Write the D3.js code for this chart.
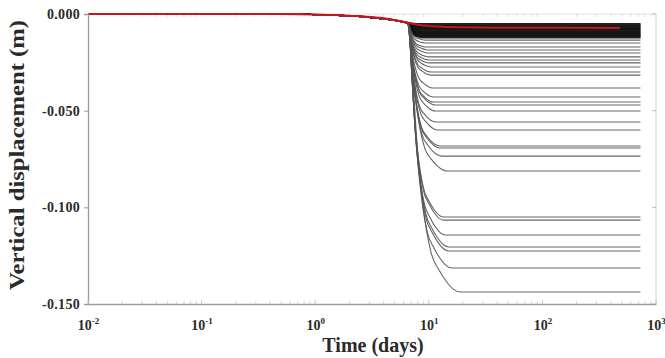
<!DOCTYPE html>
<html>
<head>
<meta charset="utf-8">
<script src="https://cdn.jsdelivr.net/npm/d3@7/dist/d3.min.js"></script>
<style>
  html, body { margin: 0; padding: 0; background: #fff; }
  svg { display: block; }
  text { font-family: "Liberation Serif", "Times New Roman", serif; font-weight: bold; fill: #2a2a2a; }
</style>
</head>
<body>
<svg id="chart" width="665" height="358"></svg>
<script>
// ---------- data ----------
const xTickExponents = [-2, -1, 0, 1, 2, 3];
const yTickValues = [0, -0.05, -0.1, -0.15];
const yTickLabels = ["0.000", "-0.050", "-0.100", "-0.150"];

// common early (pre-drop) settlement, days / m
const preTimes  = [0.01, 0.3, 0.7, 1, 1.5, 2, 3, 4, 5, 5.8, 6.5];
const preValues = [0, 0, -0.0001, -0.0003, -0.0006, -0.001, -0.0017, -0.0025, -0.0033, -0.0040, -0.0047];

// shape of the main drop: fraction of log-time between drop start and settle time, fraction of settlement
const dropStartDay = 6.5;
const dropTimeFrac = [0.06, 0.12, 0.19, 0.28, 0.44, 0.6, 0.73, 0.87, 1];
const dropValueFrac = [0.08, 0.27, 0.48, 0.66, 0.85, 0.92, 0.96, 0.99, 1];
const endDay = 730;

// final vertical displacement of each black curve (m)
const finalValues = [
  -0.0050, -0.0053, -0.0056, -0.0060, -0.0063, -0.0066, -0.0069, -0.0072, -0.0075, -0.0078,
  -0.0081, -0.0084, -0.0087, -0.0090, -0.0093, -0.0096, -0.0099, -0.0102, -0.0105, -0.0108,
  -0.0111, -0.0114, -0.0117, -0.0120, -0.0124,
  -0.0135, -0.0150, -0.0171, -0.0186, -0.0202, -0.0222, -0.0238, -0.0253, -0.0274, -0.0300, -0.0316,
  -0.0383, -0.0429, -0.0455, -0.0471, -0.0502,
  -0.0559, -0.0600,
  -0.0683, -0.0693, -0.0735, -0.0812,
  -0.1050, -0.1066, -0.1143, -0.1205, -0.1226, -0.1314,
  -0.1438
];
// day at which each black curve levels off
const settleDays = [
  9, 9, 9, 9, 9, 9, 9, 9, 9, 9,
  9, 9, 9, 9, 9, 9, 9, 9, 9, 9,
  9, 9, 9, 9, 9,
  9.5, 9.5, 9.5, 10, 10, 10, 10, 10, 10.5, 10.5, 10.5,
  11, 11, 11, 11.5, 11.5,
  11.5, 12,
  12.5, 12.5, 13, 14.5,
  13.5, 13.5, 14, 15, 15, 16,
  19
];

// red curve
const redTimes  = [0.01, 0.5, 1, 1.5, 2, 3, 3.7, 5.5, 7, 8.4, 12, 20, 50, 480];
const redValues = [0, 0, -0.0002, -0.0005, -0.0009, -0.0015, -0.002, -0.0036, -0.0049, -0.0057, -0.0065, -0.0069, -0.0071, -0.0072];

// ---------- drawing ----------
const svg = d3.select("#chart");
const mLeft = 88, mRight = 656, mTop = 14, mBottom = 304;

const x = d3.scaleLog().domain([0.01, 1000]).range([mLeft, mRight]);
const y = d3.scaleLinear().domain([-0.15, 0]).range([mBottom, mTop]);

// frame
svg.append("line").attr("x1", mLeft).attr("x2", mRight).attr("y1", mTop).attr("y2", mTop)
  .attr("stroke", "#e2e2e2").attr("stroke-width", 1);
svg.append("line").attr("x1", mRight).attr("x2", mRight).attr("y1", mTop).attr("y2", mBottom)
  .attr("stroke", "#d0d0d0").attr("stroke-width", 1);

// minor ticks (top and bottom, inward)
const minorTicks = [];
xTickExponents.slice(0, -1).forEach(e => {
  for (let k = 2; k <= 9; k++) minorTicks.push(k * Math.pow(10, e));
});
svg.append("g").selectAll("line").data(minorTicks).join("line")
  .attr("x1", d => x(d)).attr("x2", d => x(d)).attr("y1", mBottom).attr("y2", mBottom - 3)
  .attr("stroke", "#d8d8d8");
svg.append("g").selectAll("line").data(minorTicks).join("line")
  .attr("x1", d => x(d)).attr("x2", d => x(d)).attr("y1", mTop).attr("y2", mTop + 3)
  .attr("stroke", "#e0e0e0");
// right-side major y ticks
svg.append("g").selectAll("line").data(yTickValues).join("line")
  .attr("x1", mRight).attr("x2", mRight - 4).attr("y1", d => y(d)).attr("y2", d => y(d))
  .attr("stroke", "#bbb");

// curves
const line = d3.line().x(d => x(d[0])).y(d => y(d[1])).curve(d3.curveMonotoneX);

function blackCurve(finalV, tEnd) {
  const preEnd = preValues[preValues.length - 1];
  const scale = Math.min(1, (0.85 * finalV) / preEnd);
  const pts = preTimes.map((t, i) => [t, preValues[i] * scale]);
  const start = preEnd * scale;
  const l0 = Math.log10(dropStartDay), l1 = Math.log10(tEnd);
  dropTimeFrac.forEach((s, i) => {
    pts.push([Math.pow(10, l0 + s * (l1 - l0)), start + dropValueFrac[i] * (finalV - start)]);
  });
  pts.push([endDay, finalV]);
  return pts;
}

const gLines = svg.append("g");
gLines.selectAll("path").data(finalValues.map((v, i) => blackCurve(v, settleDays[i])))
  .join("path")
  .attr("d", line)
  .attr("fill", "none")
  .attr("stroke", (d, i) => finalValues[i] > -0.013 ? "#111" : "#555")
  .attr("stroke-width", (d, i) => finalValues[i] > -0.013 ? 1.2 : 1.1)
  .attr("stroke-opacity", 0.9);

svg.append("path")
  .datum(redTimes.map((t, i) => [t, redValues[i]]))
  .attr("d", line)
  .attr("fill", "none")
  .attr("stroke", "#c3161f")
  .attr("stroke-width", 2);

// y axis
const yAxis = d3.axisLeft(y).tickValues(yTickValues).tickSize(4).tickPadding(4)
  .tickFormat((d, i) => yTickLabels[i]);
const gy = svg.append("g").attr("transform", `translate(${mLeft},0)`).call(yAxis)
  .attr("font-family", null).attr("font-size", null);
gy.select(".domain").attr("stroke", "#9a9a9a").attr("stroke-width", 1.3);
gy.selectAll(".tick line").attr("stroke", "#9a9a9a");
gy.selectAll(".tick text")
  .style("font-family", '"Liberation Serif", serif').style("font-weight", "bold")
  .style("font-size", "14px").style("letter-spacing", "0.3px").attr("fill", "#2a2a2a");

// x axis
const xTickValues = xTickExponents.map(e => Math.pow(10, e));
const xAxis = d3.axisBottom(x).tickValues(xTickValues).tickSize(0).tickFormat("");
const gx = svg.append("g").attr("transform", `translate(0,${mBottom})`).call(xAxis)
  .attr("font-family", null).attr("font-size", null);
gx.select(".domain").attr("stroke", "#9a9a9a").attr("stroke-width", 1.3);
gx.selectAll(".tick").each(function(d, i) {
  const t = d3.select(this).append("text")
    .attr("y", 26).attr("text-anchor", "middle")
    .style("font-family", '"Liberation Serif", serif')
    .style("font-size", "14px").attr("fill", "#2a2a2a");
  t.append("tspan").text("10");
  t.append("tspan").attr("dy", -6).style("font-size", "9px").text(String(xTickExponents[i]));
});
// major x ticks inward at bottom
svg.append("g").selectAll("line").data(xTickValues).join("line")
  .attr("x1", d => x(d)).attr("x2", d => x(d)).attr("y1", mBottom).attr("y2", mBottom - 4)
  .attr("stroke", "#c8c8c8");

// titles
svg.append("text")
  .attr("transform", "translate(24,155) rotate(-90)")
  .attr("text-anchor", "middle")
  .attr("textLength", 270).attr("lengthAdjust", "spacingAndGlyphs")
  .style("font-size", "22px")
  .text("Vertical displacement (m)");
svg.append("text")
  .attr("x", 373).attr("y", 352).attr("text-anchor", "middle")
  .style("font-size", "20px")
  .text("Time (days)");
</script>
</body>
</html>
